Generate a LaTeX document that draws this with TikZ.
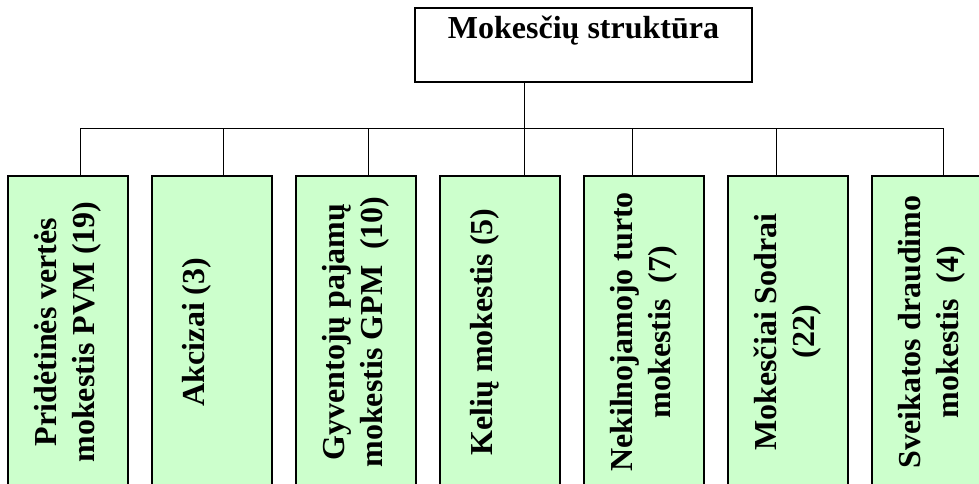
\documentclass[tikz,border=0pt]{standalone}
\usepackage{fontspec}
\setmainfont{Liberation Serif}
\definecolor{taxgreen}{HTML}{CCFFCC}
\tikzset{
  titlebox/.style={draw, line width=1.4pt, fill=white, minimum width=337pt,
    inner sep=4pt, text height=27pt, text depth=39pt,
    font=\bfseries\fontsize{32}{38}\selectfont},
  taxbox/.style={draw, line width=1.4pt, fill=taxgreen, rotate=90,
    minimum width=312pt, minimum height=120pt, inner sep=0pt, align=center,
    font=\bfseries\fontsize{32}{38}\selectfont},
  wire/.style={line width=0.9pt}
}
\begin{document}
\begin{tikzpicture}[x=1pt,y=1pt]
  \useasboundingbox (0,0) rectangle (979,484);

  % Top of the structure
  \node[titlebox] (title) at (583.5,439) {Mokesčių struktūra};

  % Tax boxes (rotated, so .east is the top edge)
  \node[taxbox] (pvm)    at (68,152)  {Pridėtinės vertės\\mokestis PVM (19)};
  \node[taxbox] (akciz)  at (212,152) {Akcizai (3)\\\mbox{}};
  \node[taxbox] (gpm)    at (356,152) {Gyventojų pajamų\\mokestis GPM~ (10)};
  \node[taxbox] (keliu)  at (500,152) {Kelių mokestis (5)\\\mbox{}};
  \node[taxbox] (nekiln) at (644,152) {Nekilnojamojo turto\\mokestis~ (7)};
  \node[taxbox] (sodra)  at (788,152) {Mokesčiai Sodrai\\(22)};
  \node[taxbox] (sveik)  at (932,152) {Sveikatos draudimo\\mokestis~ (4)};

  % Where the lines meet the boxes
  \coordinate (bus) at (0,356);
  \coordinate (k1) at ([xshift=12pt]pvm.east);
  \coordinate (k2) at ([xshift=11pt]akciz.east);
  \coordinate (k3) at ([xshift=12pt]gpm.east);
  \coordinate (k4) at ([xshift=24pt]keliu.east);
  \coordinate (k5) at ([xshift=-12pt]nekiln.east);
  \coordinate (k6) at ([xshift=-12pt]sodra.east);
  \coordinate (k7) at ([xshift=11pt]sveik.east);

  % Connectors
  \draw[wire] (title.south -| k4) -- (k4);
  \draw[wire] (k1) -- (k1 |- bus) -- (k7 |- bus) -- (k7);
  \foreach \k in {k2,k3,k5,k6}
    \draw[wire] (\k) -- (\k |- bus);
\end{tikzpicture}
\end{document}
